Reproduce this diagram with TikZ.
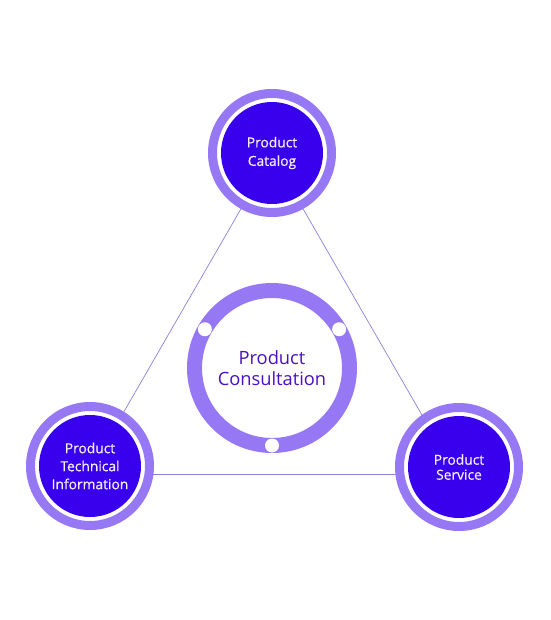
\documentclass[tikz,border=0pt]{standalone}
\usepackage{fontspec}
\setmainfont{Open Sans}
\newfontfamily\hubfont{Open Sans}[FakeBold=0.6]
\usepackage{tikz}
\usetikzlibrary{positioning,calc}
\definecolor{ringlav}{RGB}{150,120,245}
\definecolor{hubblue}{RGB}{56,0,236}
\definecolor{linelav}{RGB}{140,128,216}
\definecolor{inkpurple}{RGB}{74,16,200}
\definecolor{hubtext}{RGB}{244,238,255}
\tikzset{ringnode/.style={circle,draw=ringlav,fill=white,line width=9pt,minimum size=119pt,inner sep=0pt},
hubnode/.style={circle,fill=hubblue,minimum size=102pt,inner sep=0pt,align=center,text=hubtext,font=\hubfont\fontsize{13.8}{18.5}\selectfont},
bigring/.style={circle,draw=ringlav,fill=white,line width=15pt,minimum size=155pt,inner sep=0pt,align=center,text=inkpurple,font=\fontsize{18.3}{20.5}\selectfont},
dot/.style={circle,fill=white,minimum size=14pt,inner sep=0pt},
edge/.style={draw=linelav,line width=0.7pt}}
\begin{document}
\begin{tikzpicture}[x=1pt,y=-1pt]
\useasboundingbox (0,0) rectangle (550,620);
% triangle corners
\coordinate (apex) at (272,155);
\coordinate (leftc) at (88,474);
\coordinate (rightc) at (456,474);
\draw[edge] (apex)--(leftc);
\draw[edge] (apex)--(rightc);
\draw[edge] (leftc)--(rightc);
% outer circles
\node[ringnode] (catring) at (272,153) {};
\node[hubnode] (cat) at (catring) {Product\\Catalog};
\node[ringnode] (inforing) at (90,466) {};
\node[hubnode,font=\hubfont\fontsize{13.8}{18}\selectfont] (info) at (inforing) {Product\\Technical\\Information};
\node[ringnode] (servring) at (459,467) {};
\node[hubnode,font=\hubfont\fontsize{13.8}{15}\selectfont] (serv) at (servring) {Product\\Service};
% centre
\node[bigring] (consult) at (272,368) {Product\\Consultation};
\foreach \a/\n in {-30/dotr,210/dotl,90/dotb}
  \node[dot] (\n) at ($(consult)+(\a:77.5)$) {};
\end{tikzpicture}
\end{document}
